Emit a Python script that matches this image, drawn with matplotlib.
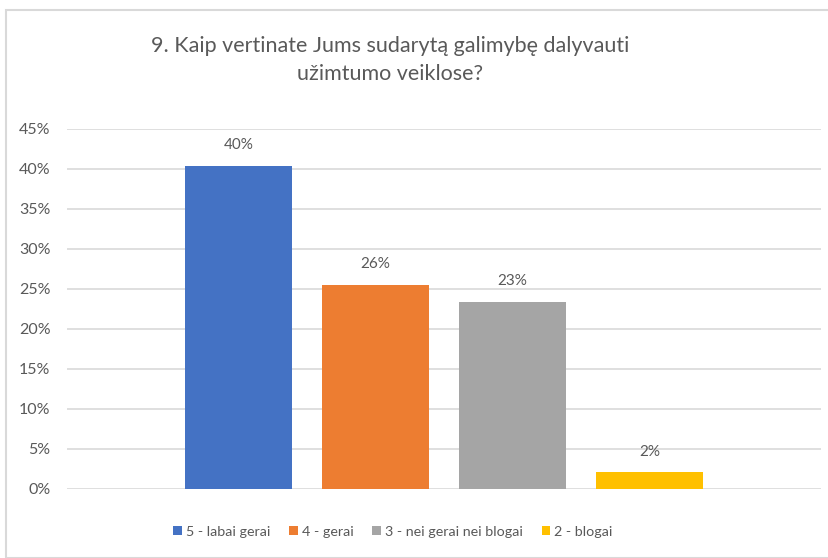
import matplotlib
matplotlib.use("Agg")
import matplotlib.pyplot as plt
from matplotlib.patches import Rectangle
from matplotlib.ticker import FuncFormatter

title = "9. Kaip vertinate Jums sudarytą galimybę dalyvauti\nužimtumo veiklose?"
series = ["5 - labai gerai", "4 - gerai", "3 - nei gerai nei blogai", "2 - blogai"]
values = [0.404, 0.255, 0.234, 0.021]
labels = ["40%", "26%", "23%", "2%"]
colors = ["#4472C4", "#ED7D31", "#A5A5A5", "#FFC000"]

plt.rcParams["font.family"] = ["Lato", "DejaVu Sans"]
txt = "#595959"

W, H = 829, 558
fig = plt.figure(figsize=(W / 100, H / 100), dpi=100)

# chart frame (cut off on the right and bottom in the source)
fig.patches.append(Rectangle((6 / W, 0), 2, 1 - 10 / H, transform=fig.transFigure,
                             fill=False, ec="#d9d9d9", lw=1.5))

ax = fig.add_axes([67 / W, (H - 489) / H, (821 - 67) / W, 360 / H])
for i, (s, v, c) in enumerate(zip(series, values, colors)):
    ax.bar(i, v, width=0.78, color=c, label=s, zorder=3)
    ax.text(i, v + 0.017, labels[i], ha="center", va="bottom", fontsize=11, color=txt)

ax.set_xlim(-1.25, 4.25)
ax.set_ylim(0, 0.45)
ax.set_yticks([i * 0.05 for i in range(10)])
ax.yaxis.set_major_formatter(FuncFormatter(lambda y, _: f"{y * 100:.0f}%"))
ax.set_xticks([])
ax.grid(axis="y", color="#d9d9d9", lw=1.2, zorder=0)
for sp in ax.spines.values():
    sp.set_visible(False)
ax.tick_params(axis="y", length=0, labelsize=11.5, labelcolor=txt, pad=12)

fig.text(390 / W, 1 - 60 / H, title, ha="center", va="center", fontsize=15.5,
         color=txt, linespacing=1.45)

fig.legend(loc="center", bbox_to_anchor=(393 / W, 1 - 532 / H), ncol=4, frameon=False,
           fontsize=10.3, labelcolor=txt, handlelength=0.6, handleheight=0.6,
           handletextpad=0.3, columnspacing=1.3)

fig.savefig("out.png", dpi=100)
